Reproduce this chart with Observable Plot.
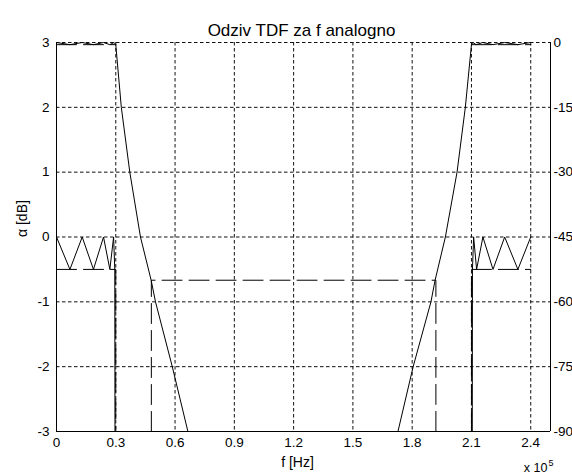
<!DOCTYPE html>
<html><head><meta charset="utf-8">
<script src="https://cdn.jsdelivr.net/npm/d3@7"></script>
<script src="https://cdn.jsdelivr.net/npm/@observablehq/plot@0.6"></script>
<style>
body{margin:0;background:#fff}
#chart svg{font-family:"Liberation Sans",Arial,sans-serif;background:#fff}
</style>
</head><body><div id="chart"></div>
<script>
// ---- texts & ticks ----
const title = "Odziv TDF za f analogno";
const xLabel = "f [Hz]";
const yLabel = "α [dB]";
const xMultiplier = "x 10";
const xExponent = "5";
const xTicks = [0, 0.3, 0.6, 0.9, 1.2, 1.5, 1.8, 2.1, 2.4];   // f in units of 1e5 Hz
const yTicksLeft = [-3, -2, -1, 0, 1, 2, 3];                  // α [dB] (passband)
const yTicksRight = [0, -15, -30, -45, -60, -75, -90];        // magnitude [dB]

// ---- passband attenuation (left axis, α [dB]) ----
const passLowF  = [0, 0.068, 0.13, 0.187, 0.238, 0.27, 0.289, 0.295, 0.296];
const passLowA  = [0, -0.5, 0, -0.5, 0, -0.5, 0, -0.5, -3.3];
const passHighF = [2.104, 2.105, 2.111, 2.126, 2.158, 2.209, 2.268, 2.335, 2.4];
const passHighA = [-3.3, -0.5, 0, -0.5, 0, -0.5, 0, -0.5, 0];

// ---- full magnitude response (right axis, dB) ----
const magLowF  = [0, 0.068, 0.13, 0.187, 0.238, 0.27, 0.291, 0.3, 0.328, 0.371, 0.425, 0.479, 0.501, 0.586, 0.665];
const magLowDb = [0, -0.5, 0, -0.5, 0, -0.5, 0, -0.5, -15, -30, -45, -55, -60, -75, -90];
const magHighF  = [1.728, 1.805, 1.895, 1.916, 1.968, 2.027, 2.069, 2.1, 2.107, 2.124, 2.157, 2.209, 2.268, 2.335, 2.4];
const magHighDb = [-90, -75, -60, -55, -45, -30, -15, -0.5, 0, -0.5, 0, -0.5, 0, -0.5, 0];

// ---- tolerance templates (dashed) ----
const tplPassLowF = [0, 0.3, 0.3];       const tplPassLowA = [-0.5, -0.5, -3];
const tplPassHighF = [2.1, 2.1, 2.4];    const tplPassHighA = [-3, -0.5, -0.5];
const tplStopF = [0.48, 0.48, 1.92, 1.92]; const tplStopDb = [-90, -55, -55, -90];
const tplMagPassLowF = [0, 0.3];   const tplMagPassLowDb = [-0.5, -0.5];
const tplMagPassHighF = [2.1, 2.4]; const tplMagPassHighDb = [-0.5, -0.5];

// right axis (dB, -90..0) shares the frame with left axis (-3..3)
const toLeft = v => v / 15 + 3;

const black = "#000";
const grid = {stroke: "#111", strokeOpacity: 1, strokeWidth: 1, strokeDasharray: "3.5,2.5"};
const dash = {stroke: black, strokeWidth: 1, strokeDasharray: "20,7", clip: true};
const solid = {stroke: black, strokeWidth: 1, clip: true};
const fs = 13.5;

const chart = Plot.plot({
  width: 572, height: 476,
  marginLeft: 56, marginRight: 22, marginTop: 42, marginBottom: 45,
  x: {domain: [0, 2.5]},
  y: {domain: [-3, 3]},
  style: {fontFamily: "Liberation Sans, Arial, sans-serif", fontSize: fs + "px", color: black, background: "#fff"},
  marks: [
    Plot.gridX(xTicks.filter(t => t > 0), grid),
    Plot.gridY(yTicksLeft.filter(t => t > -3), grid),
    Plot.axisX(xTicks, {tickSize: 0, tickPadding: 6, tickFormat: d => String(d), label: null, fontSize: fs}),
    Plot.axisY(yTicksLeft, {anchor: "left", tickSize: 0, tickPadding: 7, tickFormat: d => String(d), label: null, fontSize: fs}),
    Plot.axisY(yTicksRight.map(toLeft), {anchor: "right", tickSize: 0, tickPadding: 3,
      tickFormat: v => String(Math.round((v - 3) * 15)), label: null, fontSize: fs}),
    // templates
    Plot.line(tplPassLowF, {x: tplPassLowF, y: tplPassLowA, ...dash}),
    Plot.line(tplPassHighF, {x: tplPassHighF, y: tplPassHighA, ...dash}),
    Plot.line(tplStopF, {x: tplStopF, y: tplStopDb.map(toLeft), ...dash}),
    Plot.line(tplMagPassLowF, {x: tplMagPassLowF, y: tplMagPassLowDb.map(toLeft), ...dash}),
    Plot.line(tplMagPassHighF, {x: tplMagPassHighF, y: tplMagPassHighDb.map(toLeft), ...dash}),
    // responses
    Plot.line(passLowF, {x: passLowF, y: passLowA, ...solid}),
    Plot.line(passHighF, {x: passHighF, y: passHighA, ...solid}),
    Plot.line(magLowF, {x: magLowF, y: magLowDb.map(toLeft), ...solid}),
    Plot.line(magHighF, {x: magHighF, y: magHighDb.map(toLeft), ...solid}),
    // axis lines (left, right, bottom)
    Plot.ruleX([0, 2.5], {stroke: black, strokeWidth: 1}),
    Plot.ruleY([-3], {stroke: black, strokeWidth: 1}),
    // texts
    Plot.text([title], {frameAnchor: "top", dy: -19, dx: -2, fontSize: 17, fill: black}),
    Plot.text([xLabel], {frameAnchor: "bottom", dy: 35, dx: -6, fontSize: 14, fill: black}),
    Plot.text([yLabel], {frameAnchor: "left", dx: -34, rotate: -90, fontSize: 14, fill: black}),
    Plot.text([xMultiplier], {frameAnchor: "bottom-right", dx: -3, dy: 40, textAnchor: "end", fontSize: 12.5, fill: black}),
    Plot.text([xExponent], {frameAnchor: "bottom-right", dx: -2, dy: 34, textAnchor: "start", fontSize: 9, fill: black})
  ]
});
document.getElementById("chart").appendChild(chart);
</script>
</body></html>
